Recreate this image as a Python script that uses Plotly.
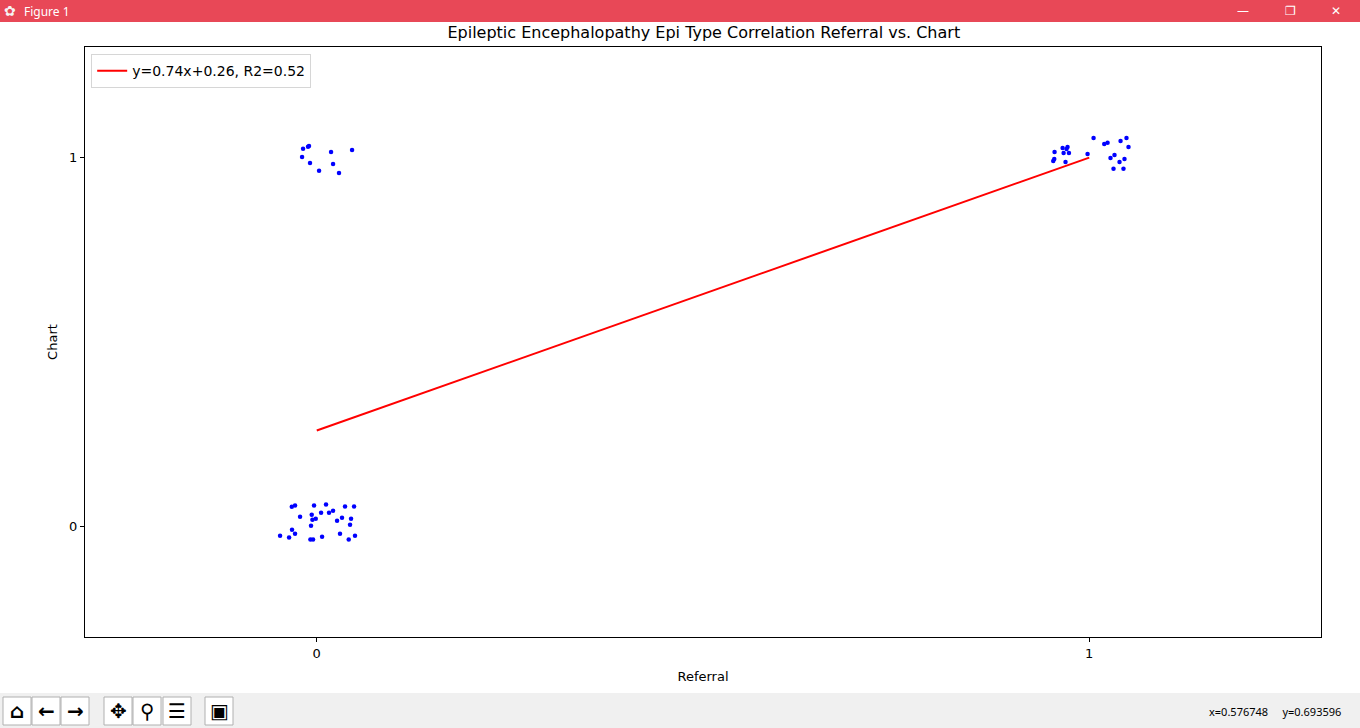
import plotly.graph_objects as go

# jittered referral (x) vs chart (y) values
ref_x = [-0.0323, -0.0281, -0.0035, 0.0120, 0.0366, 0.0483, -0.0216, -0.0065, 0.0056, 0.0159,
         0.0211, -0.0056, -0.0013, 0.0263, 0.0327, 0.0444, -0.0074, 0.0431, -0.0320, -0.0281,
         -0.0475, -0.0358, -0.0082, -0.0048, 0.0069, 0.0301, 0.0414, 0.0495,
         -0.0177, -0.0113, -0.0100, -0.0190, -0.0087, 0.0030, 0.0185, 0.0211, 0.0288, 0.0457,
         1.0056, 1.0194, 1.0237, 1.0405, 1.0482, 1.0508, 0.9551, 0.9655, 0.9719, 0.9706,
         0.9668, 0.9737, 0.9547, 0.9534, 0.9693, 0.9978, 1.0275, 1.0327, 1.0456, 1.0392,
         1.0314, 1.0443]
chart_y = [0.0532, 0.0568, 0.0568, 0.0595, 0.0541, 0.0541, 0.0262, 0.0316, 0.0370, 0.0370,
           0.0424, 0.0181, 0.0208, 0.0154, 0.0235, 0.0208, 0.0019, 0.0046, -0.0089, -0.0197,
           -0.0251, -0.0305, -0.0359, -0.0359, -0.0278, -0.0197, -0.0359, -0.0251,
           1.0243, 1.0297, 1.0316, 1.0019, 0.9857, 0.9641, 1.0154, 0.9830, 0.9586, 1.0208,
           1.0532, 1.0370, 1.0405, 1.0451, 1.0532, 1.0289, 1.0154, 1.0262, 1.0289, 1.0235,
           1.0127, 1.0127, 0.9965, 0.9911, 0.9884, 1.0100, 0.9992, 1.0073, 0.9965, 0.9884,
           0.9695, 0.9695]

slope = 0.74
intercept = 0.26
fit_x = [0, 1]
fit_y = [slope * v + intercept for v in fit_x]

font = "DejaVu Sans"

fig = go.Figure()
fig.add_trace(go.Scatter(
    x=fit_x, y=fit_y, mode="lines",
    line={"color": "red", "width": 2},
    name="y=0.74x+0.26, R2=0.52",
))
fig.add_trace(go.Scatter(
    x=ref_x, y=chart_y, mode="markers",
    marker={"color": "blue", "size": 4.5},
    showlegend=False,
))

axis_style = {
    "showgrid": False,
    "zeroline": False,
    "showline": True,
    "linecolor": "black",
    "linewidth": 1,
    "mirror": True,
    "ticks": "outside",
    "ticklen": 4,
    "tickcolor": "black",
    "tickfont": {"size": 13, "color": "black"},
    "tickvals": [0, 1],
    "ticktext": ["0", "1"],
    "range": [-0.3, 1.3],
}

fig.update_layout(
    width=1360,
    height=728,
    margin={"l": 85, "r": 39, "t": 47, "b": 91},
    paper_bgcolor="white",
    plot_bgcolor="white",
    font={"family": font, "color": "black"},
    title={
        "text": "Epileptic Encephalopathy Epi Type Correlation Referral vs. Chart",
        "x": 0.5175, "xanchor": "center", "y": 0.955, "yanchor": "middle",
        "font": {"size": 16},
    },
    xaxis={**axis_style, "title": {"text": "Referral", "font": {"size": 13}, "standoff": 12}},
    yaxis={**axis_style, "title": {"text": "Chart", "font": {"size": 13}, "standoff": 8}},
    legend={
        "x": 0.005, "y": 0.988, "xanchor": "left", "yanchor": "top",
        "bordercolor": "#d6d6d6", "borderwidth": 1, "bgcolor": "white",
        "font": {"size": 14},
    },
    showlegend=True,
)

# window chrome: title bar and toolbar
fig.add_shape(type="rect", xref="paper", yref="paper", x0=-85 / 1236, x1=1 + 39 / 1236,
              y0=1 + 25 / 590, y1=1 + 47 / 590, fillcolor="#e84857", line={"width": 0}, layer="below")
fig.add_shape(type="rect", xref="paper", yref="paper", x0=-85 / 1236, x1=1 + 39 / 1236,
              y0=-91 / 590, y1=-56 / 590, fillcolor="#f0f0f0", line={"width": 0}, layer="below")
fig.add_annotation(text="Figure 1", xref="paper", yref="paper", x=-63 / 1236, y=1 + 36 / 590,
                   xanchor="left", yanchor="middle", showarrow=False,
                   font={"family": "Noto Sans", "size": 12, "color": "white"})
fig.add_annotation(text="✿", xref="paper", yref="paper", x=-75 / 1236, y=1 + 36 / 590,
                   xanchor="center", yanchor="middle", showarrow=False,
                   font={"size": 14, "color": "#f5f5f5"})
for gx, glyph in [(1243, "—"), (1290, "❐"), (1336, "✕")]:
    fig.add_annotation(text=glyph, xref="paper", yref="paper", x=(gx - 85) / 1236, y=1 + 36 / 590,
                       xanchor="center", yanchor="middle", showarrow=False,
                       font={"size": 12, "color": "white"})
fig.add_annotation(text="x=0.576748     y=0.693596", xref="paper", yref="paper",
                   x=(1343 - 85) / 1236, y=-(711 - 637) / 590, xanchor="right", yanchor="middle",
                   showarrow=False, font={"family": "Noto Sans", "size": 11, "color": "black"})
buttons = [(17, "⌂"), (46, "←"), (75, "→"), (118, "✥"), (147, "⚲"), (177, "☰"), (219, "▣")]
for bx, glyph in buttons:
    fig.add_shape(type="rect", xref="paper", yref="paper",
                  x0=(bx - 14 - 85) / 1236, x1=(bx + 14 - 85) / 1236,
                  y0=-(725 - 637) / 590, y1=-(697 - 637) / 590,
                  fillcolor="white", line={"color": "#b0b0b0", "width": 1})
    fig.add_annotation(text="<b>" + glyph + "</b>", xref="paper", yref="paper",
                       x=(bx - 85) / 1236, y=-(711 - 637) / 590, xanchor="center", yanchor="middle",
                       showarrow=False, font={"size": 20, "color": "black"})

fig.write_html("out.html", config={"displayModeBar": False},
               post_script="document.body.style.margin='0';")
